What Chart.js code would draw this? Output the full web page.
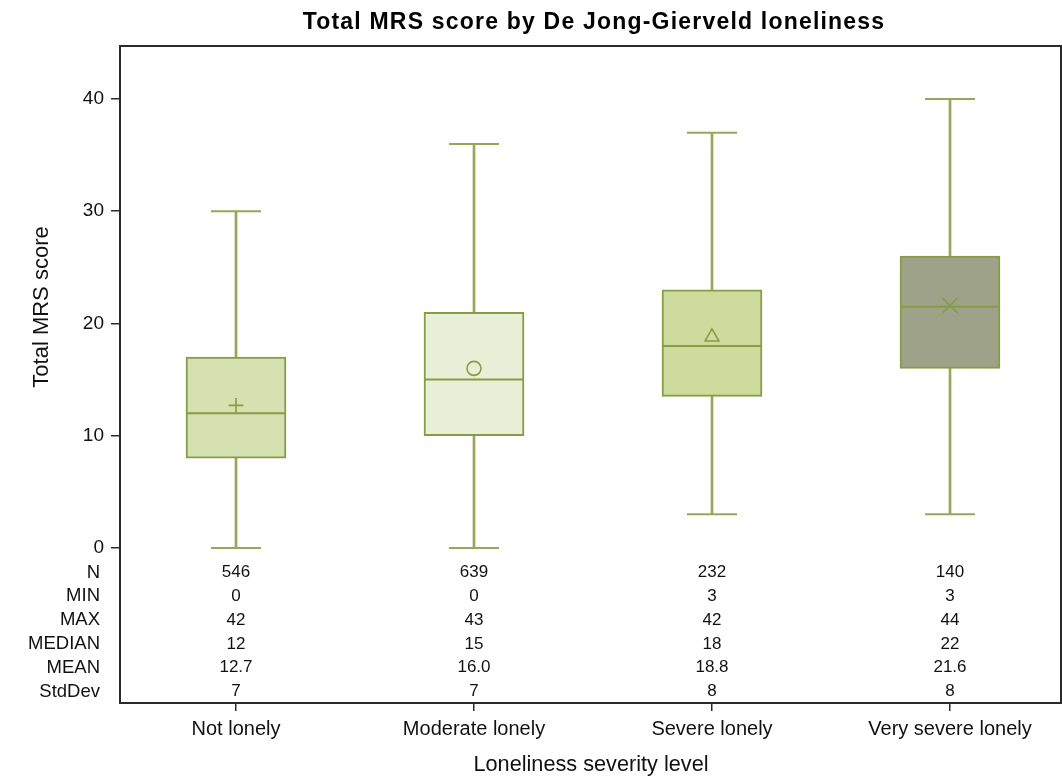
<!DOCTYPE html>
<html>
<head>
<meta charset="utf-8">
<script src="https://cdn.jsdelivr.net/npm/chart.js@4/dist/chart.umd.min.js"></script>
<style>
  html, body { margin: 0; padding: 0; background: #fff; }
  #wrap { width: 1062px; height: 780px; }
</style>
</head>
<body>
<div id="wrap"><canvas id="c" width="1062" height="780"></canvas></div>
<script>
// Loneliness groups and Total MRS score summaries
const categories = ['Not lonely', 'Moderate lonely', 'Severe lonely', 'Very severe lonely'];
const whiskerLow = [0, 0, 3, 3];
const whiskerHigh = [30, 36, 37, 40];
const q1 = [8, 10, 13.5, 16];
const q3 = [17, 21, 23, 26];
const medians = [12, 15, 18, 21.5];
const means = [12.7, 16.0, 18.8, 21.6];
const counts = [546, 639, 232, 140];
const minima = [0, 0, 3, 3];
const maxima = [42, 43, 42, 44];
const stdDevs = [7, 7, 8, 8];
const yTicks = [0, 10, 20, 30, 40];

const boxFills = ['#d6e1b1', '#e9efd7', '#cddb9d', '#9da288'];
const meanSymbols = ['cross', 'circle', 'triangle', 'crossRot'];
const meanSizes = [7.5, 7, 8, 10.5];
const LINE = '#879c46';
const WHISKER = '#94a858';
const FONT = "'Liberation Sans', Arial, sans-serif";

// statistics table printed under the boxes
const tableRows = [
  ['N', counts.map(String)],
  ['MIN', minima.map(String)],
  ['MAX', maxima.map(String)],
  ['MEDIAN', medians.map(v => String(Math.round(v)))],
  ['MEAN', means.map(v => v.toFixed(1))],
  ['StdDev', stdDevs.map(String)]
];

const idx = categories.map((_, i) => i);

// keep the plot frame fixed: no extra room for edge labels
const noEdgePadding = s => {
  s.paddingTop = 0; s.paddingBottom = 0; s.paddingLeft = 0; s.paddingRight = 0;
};

const decorations = {
  id: 'decorations',
  afterDraw(chart) {
    const { ctx, chartArea: a, scales: { x, y } } = chart;
    ctx.save();
    // frame: top and right edges
    ctx.strokeStyle = '#2a2a2a';
    ctx.lineWidth = 2;
    ctx.beginPath();
    ctx.moveTo(a.left, a.top);
    ctx.lineTo(a.right - 1, a.top);
    ctx.lineTo(a.right - 1, a.bottom);
    ctx.stroke();

    // chart title
    ctx.fillStyle = '#000';
    ctx.font = 'bold 23px ' + FONT;
    ctx.letterSpacing = '1.2px';
    ctx.textAlign = 'center';
    ctx.textBaseline = 'middle';
    ctx.fillText('Total MRS score by De Jong-Gierveld loneliness', (a.left + a.right) / 2 + 3, 23);
    ctx.letterSpacing = '0px';

    // y axis title, centred on the value range
    ctx.save();
    const yc = (y.getPixelForValue(0) + a.top) / 2 + 10;
    ctx.translate(42, yc);
    ctx.rotate(-Math.PI / 2);
    ctx.font = '22px ' + FONT;
    ctx.fillStyle = '#111';
    ctx.fillText('Total MRS score', 0, 0);
    ctx.restore();

    // statistics table
    ctx.textBaseline = 'middle';
    const step = 23.8;
    tableRows.forEach(([label, vals], k) => {
      const py = a.bottom - 11.5 - (tableRows.length - 1 - k) * step;
      ctx.textAlign = 'right';
      ctx.font = '18.5px ' + FONT;
      ctx.fillStyle = '#111';
      ctx.fillText(label, a.left - 20, py);
      ctx.textAlign = 'center';
      ctx.font = '17px ' + FONT;
      vals.forEach((v, i) => ctx.fillText(v, x.getPixelForValue(i), py));
    });
    ctx.restore();
  }
};

new Chart(document.getElementById('c'), {
  type: 'bar',
  data: {
    datasets: [
      {
        label: 'whiskers',
        data: idx.map(i => ({ x: i, y: [whiskerLow[i], whiskerHigh[i]] })),
        backgroundColor: WHISKER,
        borderWidth: 0,
        grouped: false,
        barPercentage: 1,
        categoryPercentage: 1,
        maxBarThickness: 2,
        order: 5
      },
      {
        label: 'boxes',
        data: idx.map(i => ({ x: i, y: [q1[i], q3[i]] })),
        backgroundColor: boxFills,
        borderColor: LINE,
        borderWidth: 2,
        borderSkipped: false,
        grouped: false,
        barPercentage: 1,
        categoryPercentage: 1,
        maxBarThickness: 100,
        order: 4
      },
      {
        type: 'scatter',
        label: 'caps',
        data: idx.flatMap(i => [{ x: i, y: whiskerLow[i] }, { x: i, y: whiskerHigh[i] }]),
        pointStyle: 'line',
        pointRadius: 25,
        borderColor: WHISKER,
        borderWidth: 2,
        order: 3
      },
      {
        type: 'scatter',
        label: 'median',
        data: idx.map(i => ({ x: i, y: medians[i] })),
        pointStyle: 'line',
        pointRadius: 50,
        borderColor: LINE,
        borderWidth: 2,
        order: 2
      },
      {
        type: 'scatter',
        label: 'mean',
        data: idx.map(i => ({ x: i, y: means[i] })),
        pointStyle: meanSymbols,
        pointRadius: meanSizes,
        backgroundColor: 'rgba(0,0,0,0)',
        borderColor: LINE,
        borderWidth: 1.6,
        order: 1
      }
    ]
  },
  options: {
    responsive: false,
    animation: false,
    events: [],
    layout: { autoPadding: false, padding: { top: 46, left: 0, right: 0, bottom: 0 } },
    plugins: {
      legend: { display: false },
      tooltip: { enabled: false },
      title: { display: false }
    },
    scales: {
      x: {
        type: 'linear',
        offset: false,
        min: -0.4874,
        max: 3.4706,
        afterBuildTicks: s => { s.ticks = idx.map(v => ({ value: v })); },
        afterFit: s => { s.height = 77; noEdgePadding(s); },
        grid: { offset: false, drawOnChartArea: false, drawTicks: true, tickLength: 8, color: '#2a2a2a', lineWidth: 1.5 },
        border: { display: true, color: '#2a2a2a', width: 2 },
        ticks: {
          autoSkip: false,
          maxRotation: 0,
          padding: 6,
          color: '#111',
          font: { family: FONT, size: 20 },
          callback: v => categories[v] ?? ''
        },
        title: {
          display: true,
          text: 'Loneliness severity level',
          color: '#111',
          font: { family: FONT, size: 21.7 },
          padding: { top: 0, bottom: 2 }
        }
      },
      y: {
        type: 'linear',
        min: -13.81,
        max: 44.72,
        afterBuildTicks: s => { s.ticks = yTicks.map(v => ({ value: v })); },
        afterFit: s => { s.width = 120; noEdgePadding(s); },
        grid: { drawOnChartArea: false, drawTicks: true, tickLength: 9, color: '#2a2a2a', lineWidth: 1.5 },
        border: { display: true, color: '#2a2a2a', width: 2 },
        ticks: {
          padding: 7,
          color: '#111',
          font: { family: FONT, size: 19 }
        }
      }
    }
  },
  plugins: [decorations]
});
</script>
</body>
</html>
